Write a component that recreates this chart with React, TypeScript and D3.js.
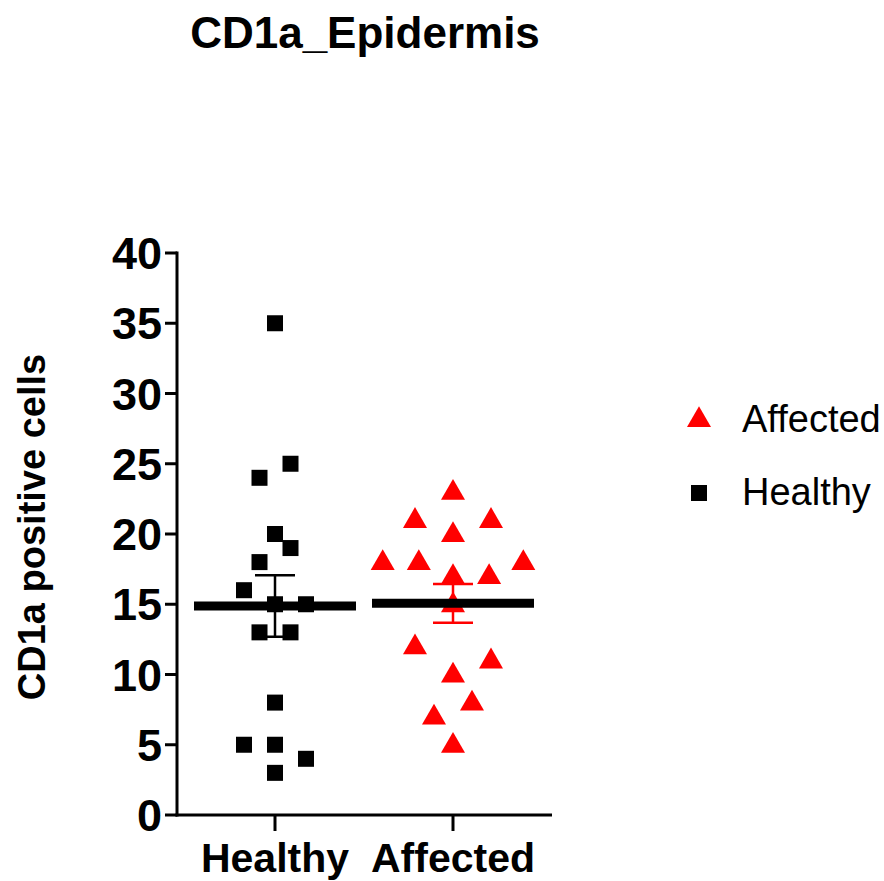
import React from "react";
import * as d3 from "d3";

const categories = ["Healthy", "Affected"];
const healthyValues = [35, 25, 24, 20, 19, 18, 16, 15, 15, 13, 13, 8, 5, 5, 4, 3];
const healthyJitter = [0, 1, -1, 0, 1, -1, -2, 0, 2, -1, 1, 0, -2, 0, 2, 0];
const affectedValues = [23, 21, 21, 20, 18, 18, 18, 17, 17, 15, 12, 11, 10, 8, 7, 5];
const affectedJitter = [0, -2, 2, 0, -3.7, -1.8, 3.7, 0, 1.9, 0, -2, 2, 0, 1, -1, 0];
const yTicks = [0, 5, 10, 15, 20, 25, 30, 35, 40];
const title = "CD1a_Epidermis";
const yTitle = "CD1a positive cells";

const FONT = "'Liberation Sans', Arial, sans-serif";

function stats(v: number[]) {
  const m = d3.mean(v) as number;
  const sd = d3.deviation(v) as number;
  return { mean: m, sem: sd / Math.sqrt(v.length) };
}

export default function App() {
  const W = 884, H = 881;
  const y = d3.scaleLinear().domain([0, 40]).range([815, 253]);
  const x = d3.scalePoint<string>().domain(categories).range([275, 453]);
  const axisLeft = 177, axisRight = 552;
  const groups = [
    { name: "Healthy", values: healthyValues, jitter: healthyJitter, step: 15.5, color: "#000000", shape: "square" },
    { name: "Affected", values: affectedValues, jitter: affectedJitter, step: 19, color: "#FF0000", shape: "triangle" },
  ];
  const triPath = d3.symbol().type(d3.symbolTriangle).size(250)() as string;

  const marker = (shape: string, color: string, cx: number, cy: number, key: any) =>
    shape === "square" ? (
      <rect key={key} x={cx - 8} y={cy - 8} width={16} height={16} fill={color} />
    ) : (
      <path key={key} d={triPath} transform={`translate(${cx},${cy + 1})`} fill={color} />
    );

  return (
    <svg width={W} height={H} style={{ position: "absolute", left: 0, top: 0, background: "#fff" }} fontFamily={FONT}>
      <rect width={W} height={H} fill="#fff" />
      <text x={365} y={48} textAnchor="middle" fontSize={44} fontWeight="bold">{title}</text>

      {/* points */}
      {groups.map((g) =>
        g.values.map((v, i) => marker(g.shape, g.color, (x(g.name) as number) + g.jitter[i] * g.step, y(v), g.name + i))
      )}

      {/* error bars */}
      {groups.map((g) => {
        const s = stats(g.values);
        const cx = x(g.name) as number;
        return (
          <g key={"eb" + g.name} stroke={g.color} strokeWidth={2.5}>
            <line x1={cx} x2={cx} y1={y(s.mean + s.sem)} y2={y(s.mean - s.sem)} />
            <line x1={cx - 20} x2={cx + 20} y1={y(s.mean + s.sem)} y2={y(s.mean + s.sem)} />
            <line x1={cx - 20} x2={cx + 20} y1={y(s.mean - s.sem)} y2={y(s.mean - s.sem)} />
          </g>
        );
      })}

      {/* mean lines */}
      {groups.map((g) => {
        const s = stats(g.values);
        const cx = x(g.name) as number;
        return <line key={"m" + g.name} x1={cx - 81} x2={cx + 81} y1={y(s.mean)} y2={y(s.mean)} stroke="#000" strokeWidth={9} />;
      })}

      {/* y axis */}
      <line x1={axisLeft} x2={axisLeft} y1={y(40) - 1.5} y2={y(0) + 1.5} stroke="#000" strokeWidth={3} />
      {yTicks.map((t) => (
        <g key={"yt" + t}>
          <line x1={axisLeft - 12} x2={axisLeft} y1={y(t)} y2={y(t)} stroke="#000" strokeWidth={3} />
          <text x={axisLeft - 15} y={y(t)} dy="0.36em" textAnchor="end" fontSize={45} fontWeight="bold">{t}</text>
        </g>
      ))}
      <text transform={`translate(45,527) rotate(-90)`} textAnchor="middle" fontSize={38} fontWeight="bold">{yTitle}</text>

      {/* x axis */}
      <line x1={axisLeft - 1.5} x2={axisRight} y1={y(0)} y2={y(0)} stroke="#000" strokeWidth={3} />
      {categories.map((c) => (
        <g key={"xt" + c}>
          <line x1={x(c) as number} x2={x(c) as number} y1={y(0)} y2={y(0) + 16} stroke="#000" strokeWidth={3} />
          <text x={x(c) as number} y={872} textAnchor="middle" fontSize={41} fontWeight="bold">{c}</text>
        </g>
      ))}

      {/* legend */}
      <path d={triPath} transform="translate(699,420)" fill="#FF0000" />
      <text x={742} y={432} fontSize={38}>Affected</text>
      <rect x={691} y={485} width={16} height={16} fill="#000" />
      <text x={742} y={505} fontSize={38}>Healthy</text>
    </svg>
  );
}
